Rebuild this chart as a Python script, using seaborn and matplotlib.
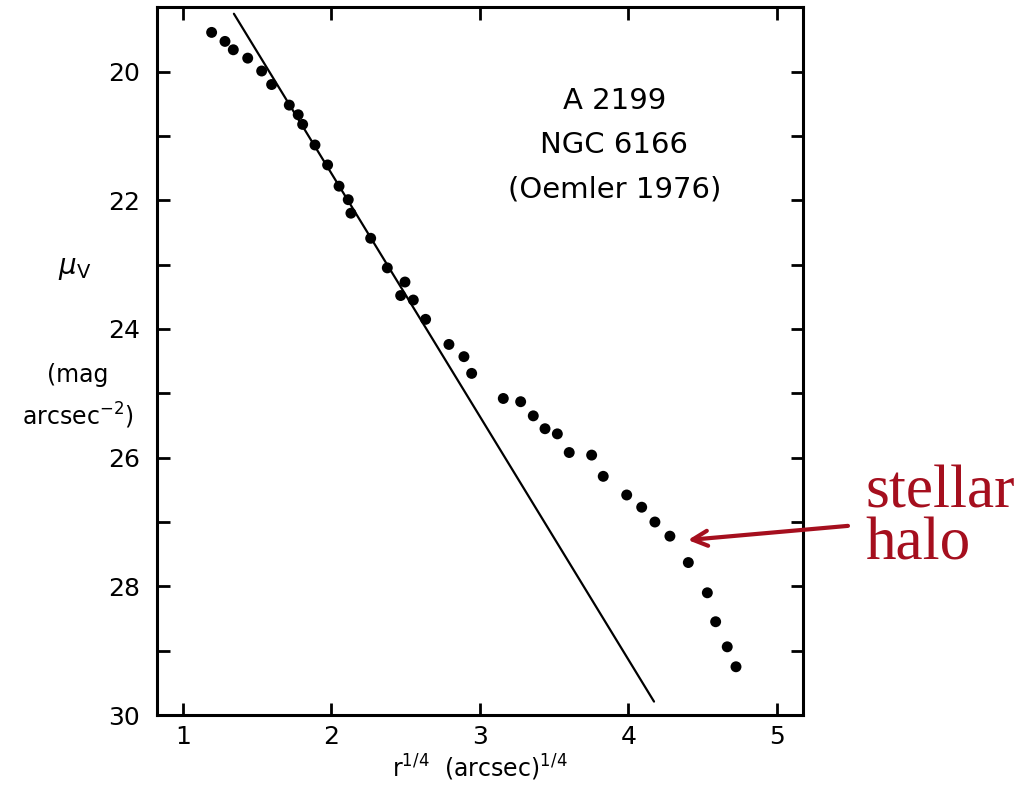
import numpy as np
import pandas as pd
import seaborn as sns
import matplotlib
matplotlib.use("Agg")
import matplotlib.pyplot as plt

# surface brightness profile
r14 = [1.193, 1.283, 1.339, 1.436, 1.530, 1.597, 1.716, 1.776, 1.806, 1.889,
       1.974, 2.051, 2.113, 2.131, 2.264, 2.376, 2.495, 2.466, 2.551, 2.634,
       2.791, 2.892, 2.944, 3.157, 3.274, 3.359, 3.438, 3.521, 3.601, 3.752,
       3.830, 3.988, 4.089, 4.178, 4.279, 4.403, 4.531, 4.587, 4.665, 4.724]
mu_v = [19.39, 19.53, 19.66, 19.79, 19.99, 20.20, 20.52, 20.67, 20.82, 21.14,
        21.45, 21.78, 21.99, 22.20, 22.59, 23.05, 23.27, 23.48, 23.55, 23.85,
        24.24, 24.43, 24.69, 25.08, 25.13, 25.35, 25.55, 25.63, 25.92, 25.96,
        26.29, 26.58, 26.77, 27.00, 27.22, 27.63, 28.10, 28.55, 28.94, 29.25]

# de Vaucouleurs r^1/4 fit line
fit_x = [1.343, 4.172]
fit_slope = 3.779
fit_intercept = 14.025

x_ticks = [1, 2, 3, 4, 5]
y_labels = [20, 22, 24, 26, 28, 30]
y_minor = [19, 21, 23, 25, 27, 29]

df = pd.DataFrame({"r14": r14, "mu": mu_v})
fit_df = pd.DataFrame({"x": fit_x})
fit_df["y"] = fit_intercept + fit_slope * fit_df["x"]

sns.set_theme(style="ticks")
plt.rcParams["font.family"] = ["DejaVu Sans"]
plt.rcParams["text.color"] = "black"
plt.rcParams["axes.labelcolor"] = "black"
plt.rcParams["xtick.color"] = "black"
plt.rcParams["ytick.color"] = "black"

fig = plt.figure(figsize=(10.28, 7.86), dpi=100)
ax = fig.add_axes([0.1527, 0.0903, 0.6284, 0.9004])

sns.lineplot(data=fit_df, x="x", y="y", ax=ax, color="black", linewidth=1.6,
             sort=False)
sns.scatterplot(data=df, x="r14", y="mu", ax=ax, color="black", s=62,
                edgecolor="none")

ax.set_xlim(0.825, 5.175)
ax.set_ylim(30, 19)
ax.set_xticks(x_ticks)
ax.set_yticks(y_labels)
ax.set_yticks(y_minor, minor=True)
ax.tick_params(which="both", direction="in", top=True, right=True,
               length=9, width=2, labelsize=18, color="black",
               labelcolor="black")
ax.tick_params(axis="y", which="both", pad=12)
ax.tick_params(axis="x", which="both", pad=7)
for sp in ax.spines.values():
    sp.set_linewidth(2.2)
    sp.set_color("black")

ax.set_xlabel(r"r$^{1/4}$  (arcsec)$^{1/4}$", fontsize=17, labelpad=3)
ax.set_ylabel("")

fig.text(75 / 1028, 1 - 268 / 786, r"$\mu_{\rm V}$", fontsize=20,
         ha="center", va="center")
fig.text(78 / 1028, 1 - 397 / 786, "(mag\narcsec$^{-2}$)", fontsize=17,
         ha="center", va="center", linespacing=1.6)

ax.text(0.708, 0.805, "A 2199\nNGC 6166\n(Oemler 1976)", transform=ax.transAxes,
        fontsize=21, ha="center", va="center", linespacing=1.75)

red = "#a50f1e"
ax.annotate("", xy=(4.40, 27.28), xytext=(5.478, 27.06),
            arrowprops=dict(arrowstyle="->,head_length=0.9,head_width=0.45",
                            color=red, lw=3, shrinkA=0, shrinkB=0),
            annotation_clip=False)
ax.text(5.593, 26.78, "stellar", color=red, fontsize=44,
        family=["Liberation Serif"], ha="left", va="baseline", clip_on=False)
ax.text(5.593, 27.59, "halo", color=red, fontsize=44,
        family=["Liberation Serif"], ha="left", va="baseline", clip_on=False)

fig.savefig("out.png", dpi=100)
